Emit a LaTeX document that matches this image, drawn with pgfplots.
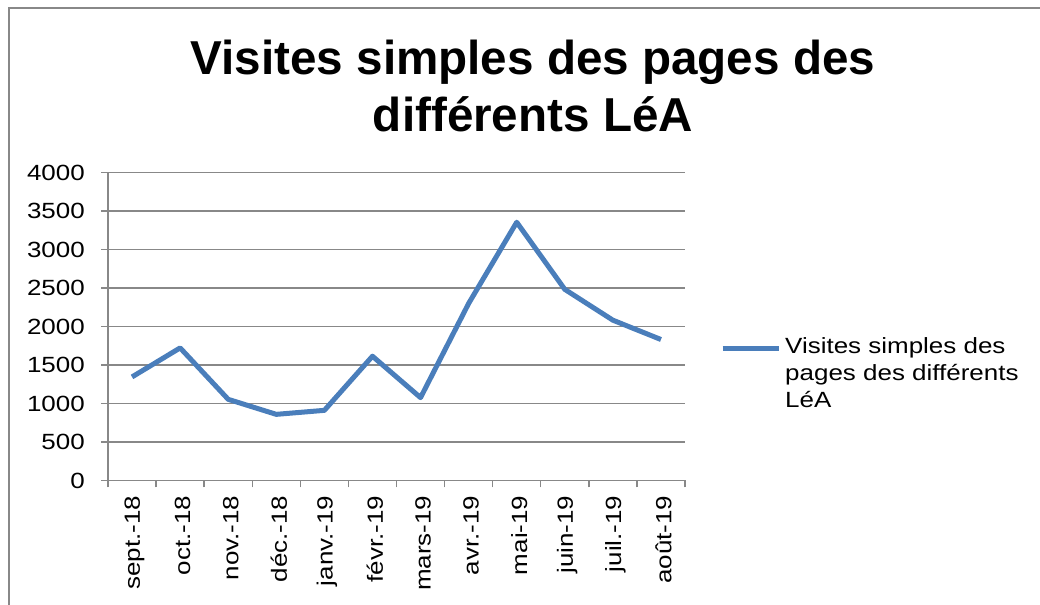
\documentclass[border=0pt]{standalone}
\usepackage{pgfplots}
\pgfplotsset{compat=1.18}
\usepackage{fontspec}
\setmainfont{Liberation Sans}
\newfontfamily\widefont[FakeStretch=1.18]{Liberation Sans}
\definecolor{exblue}{HTML}{4A7EBB}
\definecolor{axgray}{HTML}{888888}
\begin{document}
\begin{tikzpicture}[x=1bp,y=1bp]
\useasboundingbox (0,0) rectangle (1040,605);
\draw[axgray, line width=2bp] (9,-20) -- (9,596.5) -- (1060,596.5);
\node[font=\fontsize{47.6bp}{50bp}\selectfont\bfseries, anchor=base, inner sep=0pt] at (533,530) {Visites simples des pages des};
\node[font=\fontsize{47.6bp}{50bp}\selectfont\bfseries, anchor=base, inner sep=0pt] at (533,473) {différents LéA};
\begin{axis}[
  at={(108bp,124.5bp)}, anchor=south west,
  scale only axis, width=577bp, height=308bp,
  xmin=-0.5, xmax=11.5, ymin=0, ymax=4000,
  ytick={0,500,...,4000},
  xtick={-0.5,0.5,...,11.5},
  xticklabels={},
  extra x ticks={0,1,...,11},
  extra x tick labels={sept.-18,oct.-18,nov.-18,déc.-18,janv.-19,févr.-19,mars-19,avr.-19,mai-19,juin-19,juil.-19,août-19},
  extra x tick style={tick style={draw=none}},
  axis x line*=bottom, axis y line*=left,
  ymajorgrids,
  grid style={axgray, line width=1.4bp},
  axis line style={axgray, line width=1.4bp, -},
  tick style={axgray, line width=1.4bp},
  tick align=outside,
  major tick length=7bp,
  ticklabel style={font=\widefont\fontsize{22bp}{27bp}\selectfont, text=black},
  /pgf/number format/assume math mode=true,
  /pgf/number format/1000 sep={},
  scaled y ticks=false,
  yticklabel style={anchor=east, inner sep=0pt, xshift=-16bp},
  xticklabel style={rotate=90, anchor=east, inner sep=0pt, xshift=-8bp, yshift=-2.5bp},
  clip=false,
  legend style={draw=none, fill=none, at={(1.0607,0.466)}, anchor=north west,
    inner sep=0pt, font=\widefont\fontsize{22bp}{27bp}\selectfont,
    nodes={inner sep=0pt, align=left}},
  legend cell align=left,
  /tikz/every odd column/.append style={column sep=4bp},
]
\addplot[exblue, line width=5bp, line join=round, mark=none,
  legend image code/.code={\draw[exblue, line width=5bp] (0bp,24.6bp) -- (56bp,24.6bp);}]
  coordinates {(0,1345) (1,1722) (2,1054) (3,859) (4,911) (5,1614) (6,1076) (7,2299) (8,3354) (9,2482) (10,2082) (11,1831)};
\addlegendentry{Visites simples des\\pages des différents\\LéA}
\end{axis}
\end{tikzpicture}
\end{document}
